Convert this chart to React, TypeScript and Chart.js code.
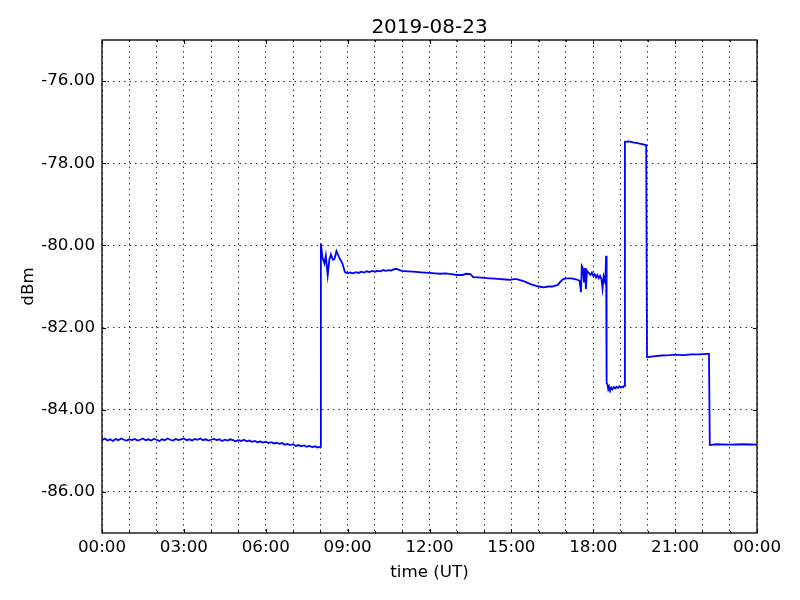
import React, { useEffect, useRef } from "react";
import { Chart, registerables } from "chart.js";

Chart.register(...registerables);

const chartTitle = "2019-08-23";
const xAxisTitle = "time (UT)";
const yAxisTitle = "dBm";

// hours since 00:00 UT
const times: number[] = [
  0.0, 0.1, 0.2, 0.3, 0.4, 0.5, 0.6, 0.7, 0.8, 0.9,
  1.0, 1.1, 1.2, 1.3, 1.4, 1.5, 1.6, 1.7, 1.8, 1.9,
  2.0, 2.1, 2.2, 2.3, 2.4, 2.5, 2.6, 2.7, 2.8, 2.9,
  3.0, 3.1, 3.2, 3.3, 3.4, 3.5, 3.6, 3.7, 3.8, 3.9,
  4.0, 4.1, 4.2, 4.3, 4.4, 4.5, 4.6, 4.7, 4.8, 4.9,
  5.0, 5.1, 5.2, 5.3, 5.4, 5.5, 5.6, 5.7, 5.8, 5.9,
  6.0, 6.1, 6.2, 6.3, 6.4, 6.5, 6.6, 6.7, 6.8, 6.9,
  7.0, 7.1, 7.2, 7.3, 7.4, 7.5, 7.6, 7.7, 7.8, 7.9,
  8.0, 8.02, 8.08, 8.15, 8.2, 8.27, 8.33, 8.39, 8.46, 8.52,
  8.59, 8.68, 8.81, 8.9, 9.0, 9.1, 9.2, 9.3, 9.4, 9.5,
  9.6, 9.7, 9.8, 9.9, 10.0, 10.1, 10.2, 10.3, 10.4, 10.5,
  10.6, 10.7, 10.8, 10.9, 11.0, 11.2, 11.4, 11.6, 11.8, 12.0,
  12.2, 12.4, 12.6, 12.8, 13.0, 13.2, 13.35, 13.5, 13.6, 13.8,
  14.0, 14.2, 14.4, 14.6, 14.8, 14.95, 15.1, 15.2, 15.35, 15.5,
  15.7, 15.85, 16.0, 16.2, 16.35, 16.5, 16.7, 16.8, 16.9, 17.0,
  17.2, 17.4, 17.5, 17.55, 17.58, 17.62, 17.66, 17.7, 17.73, 17.77,
  17.85, 17.9, 17.95, 18.0, 18.05, 18.1, 18.15, 18.2, 18.25, 18.3,
  18.34, 18.38, 18.42, 18.45, 18.47, 18.48, 18.5, 18.52, 18.55, 18.58,
  18.62, 18.66, 18.7, 18.75, 18.8, 18.85, 18.9, 18.95, 19.0, 19.05,
  19.1, 19.13, 19.16, 19.3, 19.5, 19.7, 19.9, 19.94, 19.97, 20.2,
  20.5, 20.8, 21.0, 21.3, 21.6, 21.9, 22.2, 22.24, 22.27, 22.5,
  23.0, 23.5, 24.0,
];

const dbm: number[] = [
  -84.74, -84.70, -84.75, -84.72, -84.76, -84.71, -84.74, -84.70, -84.73, -84.75,
  -84.72, -84.74, -84.71, -84.75, -84.73, -84.70, -84.74, -84.72, -84.75, -84.71,
  -84.73, -84.76, -84.72, -84.74, -84.70, -84.73, -84.75, -84.71, -84.74, -84.72,
  -84.70, -84.74, -84.72, -84.75, -84.71, -84.73, -84.70, -84.74, -84.72, -84.75,
  -84.73, -84.71, -84.74, -84.72, -84.76, -84.73, -84.75, -84.72, -84.74, -84.77,
  -84.74, -84.76, -84.73, -84.77, -84.75, -84.78, -84.76, -84.79, -84.77, -84.80,
  -84.78, -84.81, -84.79, -84.82, -84.80, -84.83, -84.81, -84.85, -84.83, -84.86,
  -84.84, -84.88, -84.86, -84.89, -84.87, -84.90, -84.88, -84.91, -84.89, -84.92,
  -84.90, -79.95, -80.30, -80.44, -80.25, -80.73, -80.35, -80.22, -80.35, -80.33,
  -80.14, -80.28, -80.44, -80.65, -80.68, -80.66, -80.68, -80.65, -80.67, -80.64,
  -80.66, -80.63, -80.65, -80.62, -80.64, -80.62, -80.63, -80.60, -80.62, -80.60,
  -80.61, -80.58, -80.57, -80.60, -80.62, -80.63, -80.64, -80.65, -80.66, -80.67,
  -80.68, -80.69, -80.68, -80.70, -80.72, -80.72, -80.69, -80.70, -80.77, -80.78,
  -80.79, -80.80, -80.81, -80.82, -80.83, -80.84, -80.82, -80.82, -80.85, -80.88,
  -80.94, -80.97, -81.00, -81.02, -81.00, -81.00, -80.96, -80.88, -80.82, -80.80,
  -80.80, -80.83, -80.86, -81.14, -80.50, -80.55, -80.90, -80.55, -81.06, -80.62,
  -80.68, -80.72, -80.66, -80.74, -80.70, -80.78, -80.72, -80.80, -80.74, -80.82,
  -81.05, -80.76, -80.86, -80.70, -80.25, -80.85, -83.35, -83.38, -83.50, -83.44,
  -83.54, -83.46, -83.50, -83.45, -83.48, -83.44, -83.47, -83.43, -83.46, -83.44,
  -83.45, -83.42, -77.48, -77.47, -77.50, -77.52, -77.55, -77.56, -82.72, -82.70,
  -82.68, -82.67, -82.66, -82.67, -82.65, -82.65, -82.64, -82.64, -84.86, -84.84,
  -84.85, -84.84, -84.85,
];

const xMin = 0;
const xMax = 24;
const yMin = -87;
const yMax = -75;
const xLabelEveryHours = 3;
const yLabelEvery = 2;

const FONT = "DejaVu Sans";

function fmtHour(h: number): string {
  const hh = Math.round(h) % 24;
  return (hh < 10 ? "0" : "") + hh + ":00";
}

const decorPlugin = {
  id: "decor",
  afterDraw(chart: any) {
    const { ctx, chartArea } = chart;
    const { left, right, top, bottom } = chartArea;
    const xs = chart.scales.x;
    const ys = chart.scales.y;
    ctx.save();
    ctx.strokeStyle = "#000";
    // inward ticks
    ctx.lineWidth = 1;
    for (let h = xMin; h <= xMax; h++) {
      const px = Math.round(xs.getPixelForValue(h)) + 0.5;
      const len = h % xLabelEveryHours === 0 ? 4 : 2;
      ctx.beginPath();
      ctx.moveTo(px, bottom);
      ctx.lineTo(px, bottom - len);
      ctx.moveTo(px, top);
      ctx.lineTo(px, top + len);
      ctx.stroke();
    }
    for (let v = yMin + 1; v < yMax; v += yLabelEvery) {
      const py = Math.round(ys.getPixelForValue(v)) + 0.5;
      ctx.beginPath();
      ctx.moveTo(left, py);
      ctx.lineTo(left + 4, py);
      ctx.moveTo(right, py);
      ctx.lineTo(right - 4, py);
      ctx.stroke();
    }
    // frame
    ctx.lineWidth = 1.3;
    ctx.strokeRect(left, top, right - left, bottom - top);
    // texts
    ctx.fillStyle = "#000";
    ctx.textAlign = "center";
    ctx.textBaseline = "alphabetic";
    ctx.font = `20px "${FONT}"`;
    ctx.fillText(chartTitle, (left + right) / 2, 33);
    ctx.font = `16.7px "${FONT}"`;
    ctx.fillText(xAxisTitle, (left + right) / 2, 577);
    ctx.translate(33, (top + bottom) / 2);
    ctx.rotate(-Math.PI / 2);
    ctx.fillText(yAxisTitle, 0, 0);
    ctx.restore();
  },
};

export default function App() {
  const ref = useRef<HTMLCanvasElement | null>(null);
  useEffect(() => {
    if (!ref.current) return;
    const points = times.map((t, i) => ({ x: t, y: dbm[i] }));
    const chart = new Chart(ref.current, {
      type: "line",
      data: {
        datasets: [
          {
            data: points,
            borderColor: "#0000ff",
            backgroundColor: "#0000ff",
            borderWidth: 1.8,
            pointRadius: 0,
            tension: 0,
            fill: false,
          },
        ],
      },
      plugins: [decorPlugin],
      options: {
        animation: false,
        responsive: false,
        devicePixelRatio: 1,
        layout: { padding: { top: 40, right: 43, left: 0, bottom: 0 } },
        plugins: {
          legend: { display: false },
          title: { display: false },
          tooltip: { enabled: false },
        },
        scales: {
          x: {
            type: "linear",
            min: xMin,
            max: xMax,
            afterFit: (s: any) => {
              s.height = 67;
            },
            ticks: {
              stepSize: 1,
              autoSkip: false,
              maxRotation: 0,
              minRotation: 0,
              padding: 5,
              color: "#000",
              font: { family: FONT, size: 16.7 },
              callback: (v: any) => {
                const n = Number(v);
                return n % xLabelEveryHours === 0 ? fmtHour(n) : "";
              },
            },
            grid: {
              color: "rgba(0,0,0,0.8)",
              lineWidth: 1,
              drawTicks: false,
            },
            border: { display: false, dash: [1.5, 4] },
          },
          y: {
            type: "linear",
            min: yMin,
            max: yMax,
            afterFit: (s: any) => {
              s.width = 102;
            },
            ticks: {
              stepSize: 1,
              autoSkip: false,
              padding: 7,
              color: "#000",
              font: { family: FONT, size: 16.7 },
              callback: (v: any) => {
                const n = Number(v);
                return Math.abs(n % yLabelEvery) === 0 ? n.toFixed(2) : "";
              },
            },
            grid: {
              color: (ctx: any) => {
                const v = ctx.tick ? ctx.tick.value : 0;
                return Math.abs(v % yLabelEvery) === 0 ? "rgba(0,0,0,0.8)" : "rgba(0,0,0,0)";
              },
              lineWidth: 1,
              drawTicks: false,
            },
            border: { display: false, dash: [1.5, 4] },
          },
        },
      },
    });
    return () => chart.destroy();
  }, []);
  return (
    <div style={{ position: "fixed", left: 0, top: 0, width: 800, height: 600, background: "#fff" }}>
      <canvas ref={ref} width={800} height={600} style={{ width: 800, height: 600 }} />
    </div>
  );
}
